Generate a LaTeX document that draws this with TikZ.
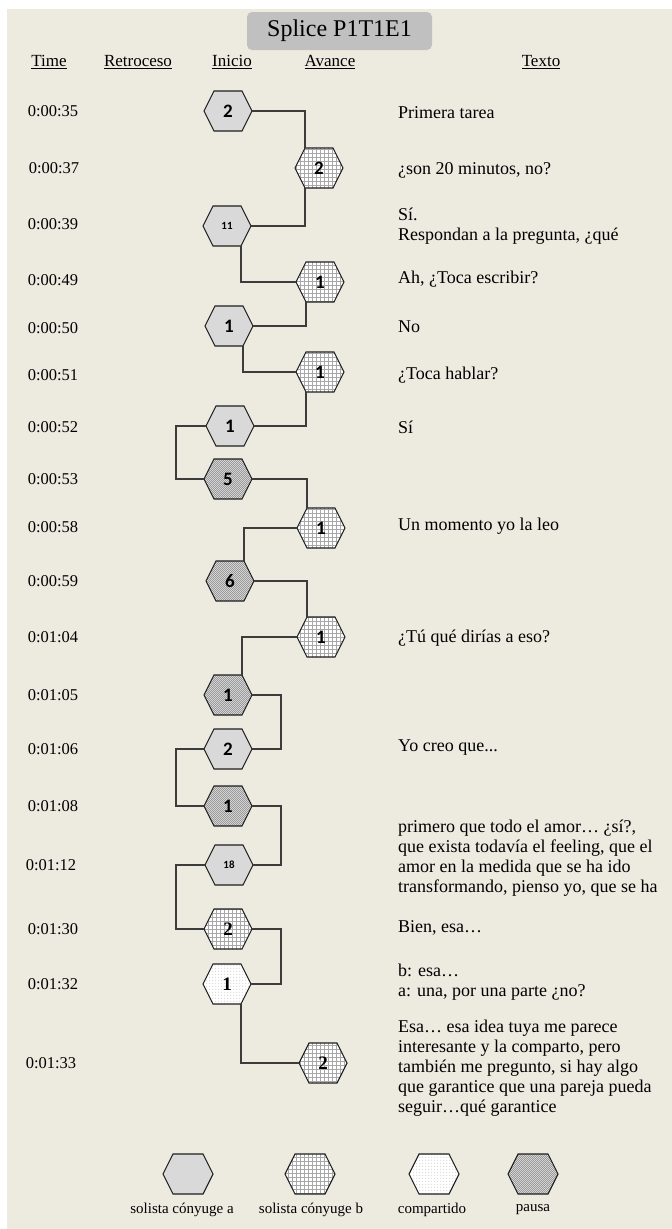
\documentclass[tikz,border=0pt]{standalone}
\usepackage{fontspec}
\setmainfont{Liberation Serif}
\newfontfamily\numfont{Carlito}
\usetikzlibrary{patterns}

% hexagonal cell: a rectangle whose left and right sides end in a point
\makeatletter
\def\hexinset{10pt}
\pgfdeclareshape{hexcell}{%
  \inheritsavedanchors[from=rectangle]%
  \inheritanchorborder[from=rectangle]%
  \inheritanchor[from=rectangle]{center}%
  \inheritanchor[from=rectangle]{north}%
  \inheritanchor[from=rectangle]{south}%
  \inheritanchor[from=rectangle]{east}%
  \inheritanchor[from=rectangle]{west}%
  \inheritanchor[from=rectangle]{north east}%
  \inheritanchor[from=rectangle]{north west}%
  \inheritanchor[from=rectangle]{south east}%
  \inheritanchor[from=rectangle]{south west}%
  \inheritanchor[from=rectangle]{mid}%
  \inheritanchor[from=rectangle]{base}%
  \backgroundpath{%
    \southwest \edef\hx@l{\the\pgf@x}\edef\hy@b{\the\pgf@y}%
    \northeast \edef\hx@r{\the\pgf@x}\edef\hy@t{\the\pgf@y}%
    \pgf@xa=\hx@l \advance\pgf@xa by \hexinset \edef\hx@il{\the\pgf@xa}%
    \pgf@xa=\hx@r \advance\pgf@xa by -\hexinset \edef\hx@ir{\the\pgf@xa}%
    \pgf@ya=\hy@b \advance\pgf@ya by \hy@t \divide\pgf@ya by 2 \edef\hy@m{\the\pgf@ya}%
    \pgfpathmoveto{\pgfqpoint{\hx@l}{\hy@m}}%
    \pgfpathlineto{\pgfqpoint{\hx@il}{\hy@t}}%
    \pgfpathlineto{\pgfqpoint{\hx@ir}{\hy@t}}%
    \pgfpathlineto{\pgfqpoint{\hx@r}{\hy@m}}%
    \pgfpathlineto{\pgfqpoint{\hx@ir}{\hy@b}}%
    \pgfpathlineto{\pgfqpoint{\hx@il}{\hy@b}}%
    \pgfpathclose
  }%
}
\makeatother

% fills of the cells
\pgfdeclarepatternformonly{cellgrid}{\pgfqpoint{-1pt}{-1pt}}{\pgfqpoint{5pt}{5pt}}{\pgfqpoint{4pt}{4pt}}{%
  \pgfsetlinewidth{0.5pt}%
  \pgfpathmoveto{\pgfqpoint{0pt}{0pt}}\pgfpathlineto{\pgfqpoint{0pt}{4.1pt}}%
  \pgfpathmoveto{\pgfqpoint{0pt}{0pt}}\pgfpathlineto{\pgfqpoint{4.1pt}{0pt}}%
  \pgfusepath{stroke}}
\pgfdeclarepatternformonly{checker}{\pgfqpoint{0pt}{0pt}}{\pgfqpoint{2.4pt}{2.4pt}}{\pgfqpoint{2.4pt}{2.4pt}}{%
  \pgfpathrectangle{\pgfqpoint{0pt}{0pt}}{\pgfqpoint{1.2pt}{1.2pt}}%
  \pgfpathrectangle{\pgfqpoint{1.2pt}{1.2pt}}{\pgfqpoint{1.2pt}{1.2pt}}%
  \pgfusepath{fill}}
\pgfdeclarepatternformonly{finedots}{\pgfqpoint{-1pt}{-1pt}}{\pgfqpoint{2pt}{2pt}}{\pgfqpoint{3pt}{3pt}}{%
  \pgfpathcircle{\pgfqpoint{0pt}{0pt}}{0.45pt}\pgfusepath{fill}}

\definecolor{paper}{HTML}{EDEAE0}
\definecolor{titlegray}{HTML}{C0C0C0}
\definecolor{cellA}{HTML}{D9D9D9}
\definecolor{wire}{HTML}{3C3C3C}
\definecolor{hexline}{HTML}{1E1E1E}
\definecolor{gridgray}{HTML}{A8A8A8}
\definecolor{dotgray}{HTML}{A0A0A0}
\definecolor{pauselight}{HTML}{DEDEDE}
\definecolor{pausedark}{HTML}{999999}

\tikzset{
  hexbase/.style={shape=hexcell, minimum width=48pt, minimum height=40pt,
    inner sep=0pt, outer sep=0pt, draw=hexline, line width=1.1pt,
    font=\numfont\bfseries\fontsize{19}{19}\selectfont},
  sola/.style={hexbase, fill=cellA},
  solb/.style={hexbase, preaction={fill=white}, pattern=cellgrid, pattern color=gridgray},
  shared/.style={hexbase, preaction={fill=white}, pattern=finedots, pattern color=dotgray},
  pausecell/.style={hexbase, preaction={fill=pauselight}, pattern=checker, pattern color=pausedark},
  smallnum/.style={font=\numfont\bfseries\fontsize{11}{11}\selectfont},
  serifnum/.style={font=\rmfamily\bfseries\fontsize{19}{19}\selectfont},
  legendcell/.style={minimum width=50pt},
  wirepath/.style={draw=wire, line width=1.2pt},
  timelbl/.style={font=\fontsize{16.5}{19}\selectfont, inner sep=0pt},
  headlbl/.style={font=\fontsize{17}{19}\selectfont, inner sep=0pt},
  speech/.style={font=\fontsize{18}{20}\selectfont, anchor=west, align=left, inner sep=0pt},
  legendlbl/.style={font=\fontsize{15}{17}\selectfont, inner sep=0pt},
}

\begin{document}
\begin{tikzpicture}[x=1pt, y=-1pt]
  \useasboundingbox (0,0) rectangle (672,1229);
  \fill[white] (0,0) rectangle (672,1229);
  \fill[paper] (7,9) rectangle (672,1229);

  % title and column heads
  \node[fill=titlegray, rounded corners=5pt, minimum width=185pt, minimum height=38pt,
        inner sep=0pt, font=\fontsize{24}{26}\selectfont] (title) at (339.5,31) {Splice P1T1E1};
  \node[headlbl] (hTime)  at (49,62)  {\underline{Time}};
  \node[headlbl] (hRetro) at (138,62) {\underline{Retroceso}};
  \node[headlbl] (hIni)   at (232,62) {\underline{Inicio}};
  \node[headlbl] (hAv)    at (330,62) {\underline{Avance}};
  \node[headlbl] (hTxt)   at (541,62) {\underline{Texto}};

  % bend columns
  \coordinate (retro) at (176,0);
  \coordinate (lowbend) at (281,0);

  % turns
  \node[sola]      (h1)  at (228,111)  {2};
  \node[solb]      (h2)  at (319,168)  {2};
  \node[sola,smallnum] (h3) at (227,226) {11};
  \node[solb]      (h4)  at (320,282)  {1};
  \node[sola]      (h5)  at (229,326)  {1};
  \node[solb]      (h6)  at (320,372)  {1};
  \node[sola]      (h7)  at (230,426)  {1};
  \node[pausecell] (h8)  at (228,479)  {5};
  \node[solb]      (h9)  at (321,528)  {1};
  \node[pausecell] (h10) at (230,581)  {6};
  \node[solb]      (h11) at (321,637)  {1};
  \node[pausecell] (h12) at (228,695)  {1};
  \node[sola]      (h13) at (228,749)  {2};
  \node[pausecell] (h14) at (228,806)  {1};
  \node[sola,smallnum] (h15) at (229,865) {18};
  \node[solb,serifnum]   (h16) at (228,929)  {2};
  \node[shared,serifnum] (h17) at (227,984)  {1};
  \node[solb,serifnum]   (h18) at (323,1063) {2};

  % connectors between turns
  \draw[wirepath] (h1.east) -| ([xshift=-14pt]h2.north);
  \draw[wirepath] ([xshift=-14pt]h2.south) |- (h3.east);
  \draw[wirepath] ([xshift=14pt]h3.south) |- (h4.west);
  \draw[wirepath] ([xshift=-14pt]h4.south) |- (h5.east);
  \draw[wirepath] ([xshift=14pt]h5.south) |- (h6.west);
  \draw[wirepath] ([xshift=-14pt]h6.south) |- (h7.east);
  \draw[wirepath] (h7.west) -- (h7.west -| retro) |- (h8.west);
  \draw[wirepath] (h8.east) -| ([xshift=-14pt]h9.north);
  \draw[wirepath] (h9.west) -| ([xshift=14pt]h10.north);
  \draw[wirepath] (h10.east) -| ([xshift=-14pt]h11.north);
  \draw[wirepath] (h11.west) -| ([xshift=14pt]h12.north);
  \draw[wirepath] (h12.east) -- (h12.east -| lowbend) |- (h13.east);
  \draw[wirepath] (h13.west) -- (h13.west -| retro) |- (h14.west);
  \draw[wirepath] (h14.east) -- (h14.east -| lowbend) |- (h15.east);
  \draw[wirepath] (h15.west) -- (h15.west -| retro) |- (h16.west);
  \draw[wirepath] (h16.east) -- (h16.east -| lowbend) |- (h17.east);
  \draw[wirepath] ([xshift=14pt]h17.south) |- (h18.west);

  % times
  \node[timelbl] (t1)  at (53,111)  {0:00:35};
  \node[timelbl] (t2)  at (54,168)  {0:00:37};
  \node[timelbl] (t3)  at (53,224)  {0:00:39};
  \node[timelbl] (t4)  at (53,280)  {0:00:49};
  \node[timelbl] (t5)  at (53,328)  {0:00:50};
  \node[timelbl] (t6)  at (53,375)  {0:00:51};
  \node[timelbl] (t7)  at (53,427)  {0:00:52};
  \node[timelbl] (t8)  at (53,479)  {0:00:53};
  \node[timelbl] (t9)  at (53,527)  {0:00:58};
  \node[timelbl] (t10) at (53,581)  {0:00:59};
  \node[timelbl] (t11) at (53,637)  {0:01:04};
  \node[timelbl] (t12) at (53,695)  {0:01:05};
  \node[timelbl] (t13) at (53,749)  {0:01:06};
  \node[timelbl] (t14) at (53,806)  {0:01:08};
  \node[timelbl] (t15) at (51,865)  {0:01:12};
  \node[timelbl] (t16) at (53,929)  {0:01:30};
  \node[timelbl] (t17) at (53,984)  {0:01:32};
  \node[timelbl] (t18) at (51,1063) {0:01:33};

  % transcript
  \node[speech] (s1)  at (398,113)  {Primera tarea};
  \node[speech] (s2)  at (398,170)  {¿son 20 minutos, no?};
  \node[speech] (s3)  at (398,226)  {Sí.\\Respondan a la pregunta, ¿qué};
  \node[speech] (s4)  at (398,279)  {Ah, ¿Toca escribir?};
  \node[speech] (s5)  at (398,327)  {No};
  \node[speech] (s6)  at (398,375)  {¿Toca hablar?};
  \node[speech] (s7)  at (398,427)  {Sí};
  \node[speech] (s9)  at (398,526)  {Un momento yo la leo};
  \node[speech] (s11) at (398,638)  {¿Tú qué dirías a eso?};
  \node[speech] (s13) at (398,748)  {Yo creo que...};
  \node[speech] (s15) at (398,858)  {primero que todo el amor… ¿sí?,\\que exista todavía el feeling, que el\\amor en la medida que se ha ido\\transformando, pienso yo, que se ha};
  \node[speech] (s16) at (398,928)  {Bien, esa…};
  \node[speech] (s17) at (398,982)  {b: esa…\\a: una, por una parte ¿no?};
  \node[speech] (s18) at (398,1068) {Esa… esa idea tuya me parece\\interesante y la comparto, pero\\también me pregunto, si hay algo\\que garantice que una pareja pueda\\seguir…qué garantice};

  % legend
  \node[sola,legendcell]      (k1) at (188,1174) {};
  \node[solb,legendcell]      (k2) at (310,1174) {};
  \node[shared,legendcell]    (k3) at (434,1174) {};
  \node[pausecell,legendcell] (k4) at (533,1174) {};
  \node[legendlbl] (l1) at (182,1210) {solista cónyuge a};
  \node[legendlbl] (l2) at (311,1210) {solista cónyuge b};
  \node[legendlbl] (l3) at (432,1210) {compartido};
  \node[legendlbl] (l4) at (533,1210) {pausa};
\end{tikzpicture}
\end{document}
